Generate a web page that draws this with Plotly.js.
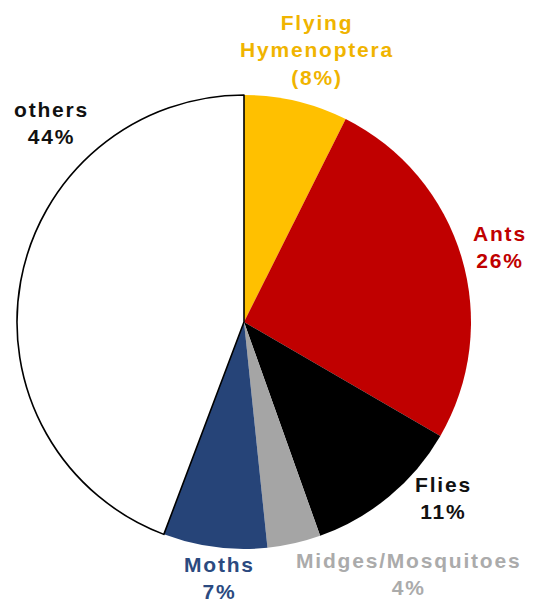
<!DOCTYPE html>
<html>
<head>
<meta charset="utf-8">
<script src="https://cdn.plot.ly/plotly-3.0.1.min.js"></script>
<style>
  html, body { margin: 0; padding: 0; background: #ffffff; }
  #chart { width: 536px; height: 604px; }
  .annotation-text { letter-spacing: 1.8px; }
</style>
</head>
<body>
<div id="chart"></div>
<script>
// ---- data ----
const categories = ["Flying Hymenoptera", "Ants", "Flies", "Midges/Mosquitoes", "Moths", "others"];
const values = [7.4, 26, 11.2, 3.8, 7.4, 44.3];
const sliceColors = ["#FFC000", "#C00000", "#000000", "#A5A5A5", "#264478", "#FFFFFF"];
const labelLines = [
  ["Flying", "Hymenoptera", "(8%)"],
  ["Ants", "26%"],
  ["Flies", "11%"],
  ["Midges/Mosquitoes", "4%"],
  ["Moths", "7%"],
  ["others", "44%"]
];
const labelColors = ["#F0B400", "#C00000", "#111111", "#ABABAB", "#2B4A80", "#111111"];

// ---- layout helpers (pixel positions of label centres) ----
const W = 536, H = 604;
const labelPos = [[317, 50], [500, 247], [443, 498], [408, 574], [219, 578], [51, 123]];
const cx = 244, cy = 322, R = 227;

const trace = {
  type: "pie",
  labels: categories,
  values: values,
  sort: false,
  direction: "clockwise",
  rotation: 0,
  textinfo: "none",
  hoverinfo: "label+percent",
  marker: {
    colors: sliceColors,
    line: { color: ["#000", "#000", "#000", "#000", "#000", "#000"], width: [0, 0, 0, 0, 0, 1.6] }
  },
  domain: {
    x: [(cx - R) / W, (cx + R) / W],
    y: [(H - cy - R) / H, (H - cy + R) / H]
  },
  showlegend: false
};

const annotations = categories.map((c, i) => ({
  xref: "paper", yref: "paper",
  x: labelPos[i][0] / W,
  y: 1 - labelPos[i][1] / H,
  xanchor: "center", yanchor: "middle",
  text: labelLines[i].join("<br>"),
  showarrow: false,
  align: "center",
  font: { family: "Liberation Sans, Arial, sans-serif", size: 21, color: labelColors[i], weight: "bold" }
}));

const layout = {
  width: W, height: H,
  margin: { l: 0, r: 0, t: 0, b: 0 },
  paper_bgcolor: "#ffffff",
  plot_bgcolor: "#ffffff",
  annotations: annotations,
  font: { family: "Liberation Sans, Arial, sans-serif" }
};

Plotly.newPlot("chart", [trace], layout, { displayModeBar: false, staticPlot: true });
</script>
</body>
</html>
